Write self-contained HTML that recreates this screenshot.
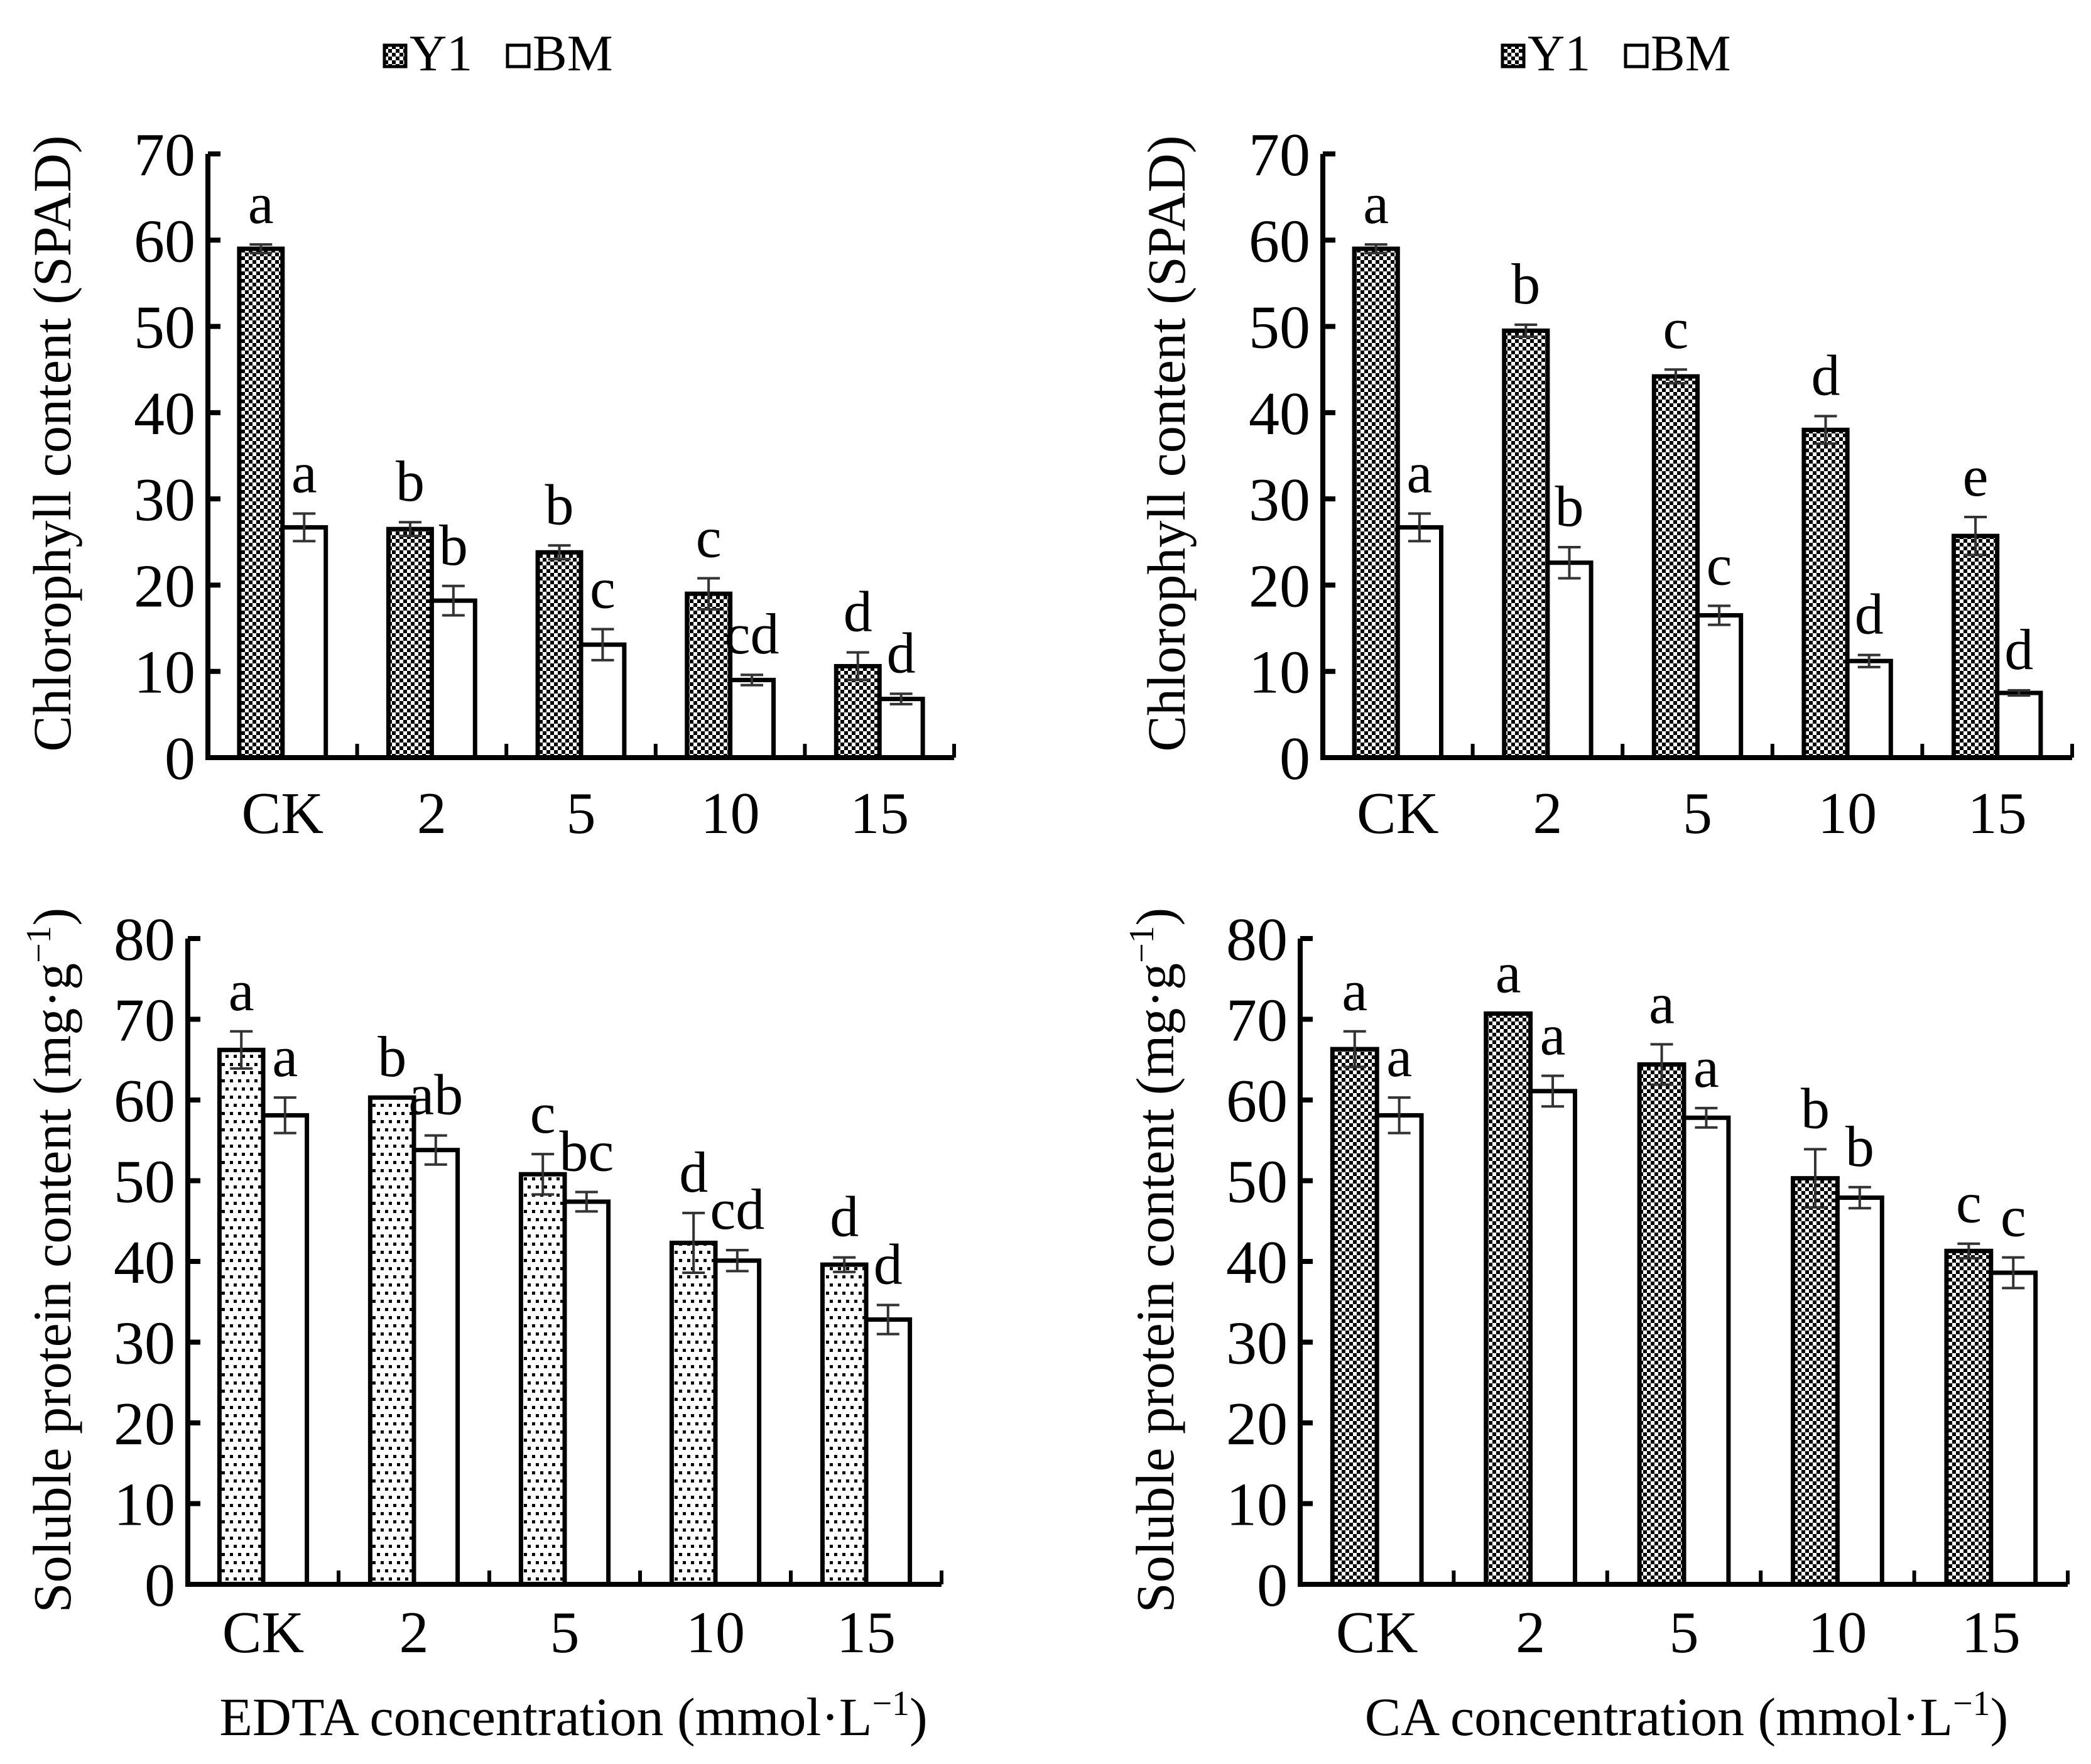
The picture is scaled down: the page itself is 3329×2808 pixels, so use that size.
<!DOCTYPE html>
<html><head><meta charset="utf-8"><style>
html,body{margin:0;padding:0;background:#fff;}
svg{display:block;font-family:"Liberation Serif","DejaVu Serif",serif;}
</style></head><body>
<svg id="fig" xmlns="http://www.w3.org/2000/svg" width="3329" height="2808" viewBox="0 0 3329 2808">
<defs>
<pattern id="check" width="12" height="12" patternUnits="userSpaceOnUse">
<rect width="12" height="12" fill="#fff"/><rect x="0" y="0" width="6" height="6" fill="#000"/><rect x="6" y="6" width="6" height="6" fill="#000"/>
</pattern>
<pattern id="dots" width="13" height="26" patternUnits="userSpaceOnUse">
<rect width="13" height="26" fill="#fff"/><rect x="2" y="2" width="5" height="5" fill="#000"/><rect x="8" y="15" width="5" height="5" fill="#000"/>
</pattern>
</defs>
<g id="root"></g>
</svg>
<script>
const categories = ["CK","2","5","10","15"];
// Chlorophyll EDTA
const chlEdtaY1 = [59, 26.5, 23.8, 19, 10.6];
const chlEdtaY1Err = [0.5, 0.8, 0.8, 1.8, 1.6];
const chlEdtaY1Sig = ["a","b","b","c","d"];
const chlEdtaBM = [26.7, 18.2, 13.1, 9, 6.8];
const chlEdtaBMErr = [1.6, 1.7, 1.8, 0.6, 0.6];
const chlEdtaBMSig = ["a","b","c","cd","d"];
// Chlorophyll CA
const chlCaY1 = [59, 49.5, 44.2, 38, 25.7];
const chlCaY1Err = [0.5, 0.7, 0.8, 1.6, 2.2];
const chlCaY1Sig = ["a","b","c","d","e"];
const chlCaBM = [26.7, 22.6, 16.5, 11.2, 7.5];
const chlCaBMErr = [1.6, 1.8, 1.1, 0.7, 0.3];
const chlCaBMSig = ["a","b","c","d","d"];
// Protein EDTA
const proEdtaY1 = [66.2, 60.3, 50.8, 42.3, 39.6];
const proEdtaY1Err = [2.3, 0, 2.5, 3.7, 0.9];
const proEdtaY1Sig = ["a","b","c","d","d"];
const proEdtaBM = [58.1, 53.8, 47.4, 40.1, 32.8];
const proEdtaBMErr = [2.2, 1.8, 1.2, 1.3, 1.8];
const proEdtaBMSig = ["a","ab","bc","cd","d"];
// Protein CA
const proCaY1 = [66.3, 70.7, 64.4, 50.3, 41.3];
const proCaY1Err = [2.2, 0, 2.5, 3.6, 0.9];
const proCaY1Sig = ["a","a","a","b","c"];
const proCaBM = [58.1, 61.1, 57.8, 47.9, 38.6];
const proCaBMErr = [2.2, 1.9, 1.2, 1.3, 1.9];
const proCaBMSig = ["a","a","a","b","c"];
const chlTicks = [0,10,20,30,40,50,60,70];
const proTicks = [0,10,20,30,40,50,60,70,80];

const NS="http://www.w3.org/2000/svg";
const root=document.getElementById('root');
function mk(tag,attrs,parent){const e=document.createElementNS(NS,tag);for(const k in attrs)e.setAttribute(k,attrs[k]);(parent||root).appendChild(e);return e;}

function panel(o){
  const g=mk('g',{});
  
  
  const ymax=o.ticks[o.ticks.length-1];
  const yS=v=>o.y0-(v/ymax)*(o.y0-o.yTop);
  const cw=(o.xEnd-o.x0)/categories.length;
  const bw=cw*0.29;
  o.ticks.forEach(t=>{
    const y=yS(t);
    const l=mk('line',{x1:o.x0,x2:o.x0+20,y1:y,y2:y,stroke:'#000','stroke-width':8},g);
    
    
    const tx=mk('text',{x:o.x0-20,y:y+34,'font-size':98,'text-anchor':'end'},g);
    tx.textContent=t;
    
    
  });
  for(let i=1;i<=categories.length;i++){
    const x=o.x0+i*cw;
    const l=mk('line',{x1:x,x2:x,y1:o.y0,y2:o.y0-22,stroke:'#000','stroke-width':6},g);
    
    
  }
  categories.forEach((c,i)=>{
    const cx=o.x0+(i+0.5)*cw;
    const series=[[o.y1,o.y1e,o.y1s,o.fill,cx-bw,'y1'],[o.bm,o.bme,o.bms,'#fff',cx,'bm']];
    series.forEach(s=>{
      const v=s[0][i],e=s[1][i],sig=s[2][i];
      const y=yS(v);
      const r=mk('rect',{x:s[4],y:y,width:bw,height:o.y0-y,fill:s[3],stroke:'#000','stroke-width':7},g);
      
      
      const ex=s[4]+bw/2, yt=yS(v+e), yb=yS(v-e);
      if(e>0){
        const eb=mk('path',{d:`M${ex} ${yt}V${yb}M${ex-18} ${yt}H${ex+18}M${ex-18} ${yb}H${ex+18}`,stroke:'#333','stroke-width':4,fill:'none'},g);
        
        
      }
      const lt=mk('text',{x:ex,y:yt-34,'font-size':92,'text-anchor':'middle'},g);
      lt.textContent=sig;
      
      
    });
    const cl=mk('text',{x:cx,y:o.y0+o.catDy,'font-size':94,'text-anchor':'middle'},g);
    cl.textContent=c;
    
    
  });
  const ax=mk('path',{d:`M${o.x0} ${o.yTop}V${o.y0}H${o.xEnd}`,stroke:'#000','stroke-width':8,fill:'none'},g);
  
  
  const yt=mk('text',{x:0,y:0,'font-size':86,'text-anchor':'middle',transform:`translate(${o.titleX},${o.titleY}) rotate(-90)`},g);
  yt.innerHTML=o.title;
  
  
}
function legend(x,y){
  const g=mk('g',{});
  
  
  mk('rect',{x:x,y:y-40,width:34,height:34,fill:'url(#check)',stroke:'#000','stroke-width':5},g);
  const t1=mk('text',{x:x+40,y:y,'font-size':82},g);t1.textContent='Y1';
  mk('rect',{x:x+196,y:y-40,width:34,height:34,fill:'#fff',stroke:'#000','stroke-width':5},g);
  const t2=mk('text',{x:x+236,y:y,'font-size':82},g);t2.textContent='BM';
}
legend(612,112);
legend(2392,112);
panel({name:'chlorophyll-edta-chart',x0:331,xEnd:1519,y0:1206,yTop:245,ticks:chlTicks,fill:'url(#check)',catDy:120,
 y1:chlEdtaY1,y1e:chlEdtaY1Err,y1s:chlEdtaY1Sig,bm:chlEdtaBM,bme:chlEdtaBMErr,bms:chlEdtaBMSig,
 title:'Chlorophyll content (SPAD)',titleX:112,titleY:706});
panel({name:'chlorophyll-ca-chart',x0:2106,xEnd:3299,y0:1206,yTop:245,ticks:chlTicks,fill:'url(#check)',catDy:120,
 y1:chlCaY1,y1e:chlCaY1Err,y1s:chlCaY1Sig,bm:chlCaBM,bme:chlCaBMErr,bms:chlCaBMSig,
 title:'Chlorophyll content (SPAD)',titleX:1886,titleY:706});
panel({name:'protein-edta-chart',x0:299,xEnd:1499,y0:2522,yTop:1494,ticks:proTicks,fill:'url(#dots)',catDy:108,
 y1:proEdtaY1,y1e:proEdtaY1Err,y1s:proEdtaY1Sig,bm:proEdtaBM,bme:proEdtaBMErr,bms:proEdtaBMSig,
 title:'Soluble protein content (mg·g<tspan dy="-32" font-size="56">−1</tspan><tspan dy="32">)</tspan>',titleX:112,titleY:2006});
panel({name:'protein-ca-chart',x0:2070,xEnd:3292,y0:2522,yTop:1494,ticks:proTicks,fill:'url(#check)',catDy:108,
 y1:proCaY1,y1e:proCaY1Err,y1s:proCaY1Sig,bm:proCaBM,bme:proCaBMErr,bms:proCaBMSig,
 title:'Soluble protein content (mg·g<tspan dy="-32" font-size="56">−1</tspan><tspan dy="32">)</tspan>',titleX:1868,titleY:2006});
function xtitle(x,txt,name){
  const t=mk('text',{x:x,y:2762,'font-size':86,'text-anchor':'middle'});
  t.innerHTML=txt+' concentration (mmol·L<tspan dy="-32" font-size="56">−1</tspan><tspan dy="32">)</tspan>';
  
  
}
xtitle(913,'EDTA','x-axis-title-edta');
xtitle(2685,'CA','x-axis-title-ca');
</script>
</body></html>
